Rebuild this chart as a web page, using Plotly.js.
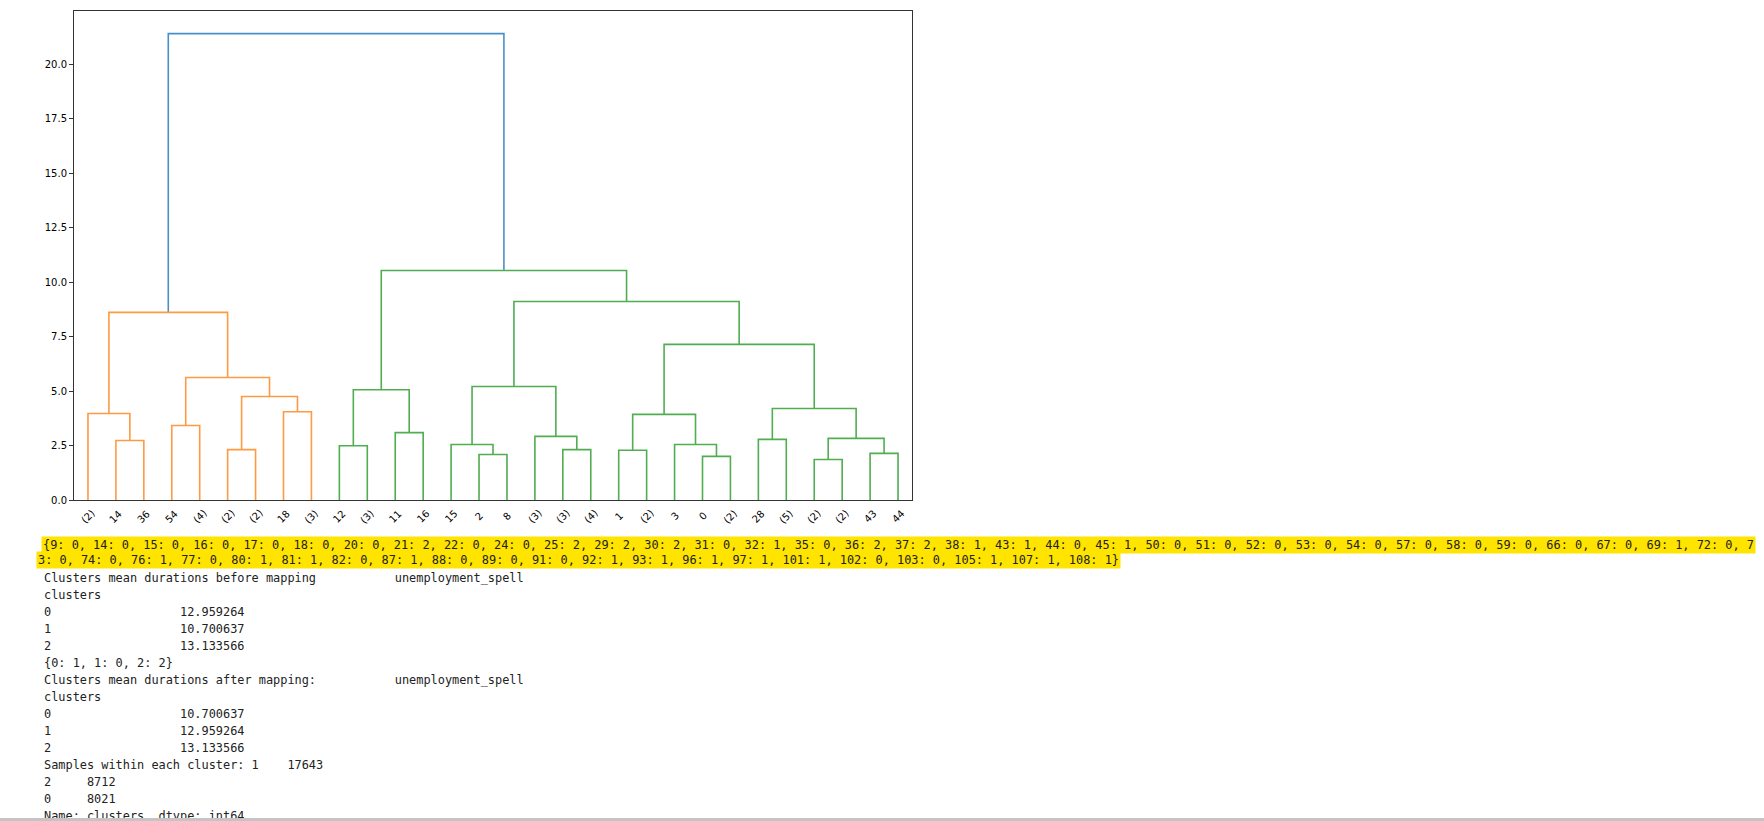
<!DOCTYPE html>
<html><head><meta charset="utf-8">
<script src="https://cdn.plot.ly/plotly-3.0.1.min.js"></script>
<style>
html,body{margin:0;padding:0;background:#fff;overflow:hidden}
#chart{width:1764px;height:821px;position:absolute;left:0;top:0}
#bar{position:absolute;left:0;top:818px;width:1764px;height:3px;background:#c4c4c4}
</style>
</head><body><div id="chart"></div><div id="bar"></div>
<script>
// ---- dendrogram data ----
const leafLabels = ['(2)','14','36','54','(4)','(2)','(2)','18','(3)','12','(3)','11','16','15','2','8','(3)','(3)','(4)','1','(2)','3','0','(2)','28','(5)','(2)','(2)','43','44'];
// merges: node id = leafLabels.length + merge index
const mergeLeft   = [1, 0, 3, 5, 7, 33, 32, 31, 9, 11, 38, 14, 13, 17, 16, 42, 19, 22, 21, 46, 24, 26, 28, 51, 50, 49, 45, 40, 37];
const mergeRight  = [2,30, 4, 6, 8, 34, 35, 36,10, 12, 39, 15, 41, 18, 43, 44, 20, 23, 47, 48, 25, 27, 29, 52, 53, 54, 55, 56, 57];
const mergeHeight = [2.73,3.97,3.42,2.31,4.05,4.75,5.62,8.61, 2.49,3.09,5.06,2.09,2.55,2.31,2.92,5.21,2.28,2.00,2.55,3.93,2.78,1.86,2.14,2.83,4.20,7.14,9.11,10.53, 21.40];
const mergeGroup  = [1,1,1,1,1,1,1,1, 2,2,2,2,2,2,2,2,2,2,2,2,2,2,2,2,2,2,2,2, 0];
const yTicks = [0,2.5,5,7.5,10,12.5,15,17.5,20];

// ---- printed output data ----
const mapKeys = [9,14,15,16,17,18,20,21,22,24,25,29,30,31,32,35,36,37,38,43,44,45,50,51,52,53,54,57,58,59,66,67,69,72,73,74,76,77,80,81,82,87,88,89,91,92,93,96,97,101,102,103,105,107,108];
const mapVals = [0,0,0,0,0,0,0,2,0,0,2,2,2,0,1,0,2,2,1,1,0,1,0,0,0,0,0,0,0,0,0,0,1,0,0,0,1,0,1,1,0,1,0,0,0,1,1,1,1,1,0,0,1,1,1];
const clusterIds = [0,1,2];
const meansBefore = [12.959264,10.700637,13.133566];
const remap = [1,0,2];
const meansAfter = [10.700637,12.959264,13.133566];
const countIds = [1,2,0];
const countVals = [17643,8712,8021];
const colName = 'unemployment_spell';
const idxName = 'clusters';

// ---- build dendrogram segments ----
const nLeaf = leafLabels.length;
const nodeX = [], nodeH = [];
for (let i=0;i<nLeaf;i++){ nodeX.push(5+10*i); nodeH.push(0); }
const groupColors = ['#4a90c8','#fd9a43','#50ad50'];
const segX = [[],[],[]], segY = [[],[],[]];
for (let k=0;k<mergeLeft.length;k++){
  const a=mergeLeft[k], b=mergeRight[k], h=mergeHeight[k], g=mergeGroup[k];
  segX[g].push(nodeX[a],nodeX[a],nodeX[b],nodeX[b],null);
  segY[g].push(nodeH[a],h,h,nodeH[b],null);
  nodeX.push((nodeX[a]+nodeX[b])/2); nodeH.push(h);
}
const traces = [0,1,2].map(g=>({x:segX[g],y:segY[g],type:'scatter',mode:'lines',
  line:{color:groupColors[g],width:1.6},hoverinfo:'skip',showlegend:false}));

// ---- geometry helpers (pixel -> paper) ----
const L=74, T=11, W=838, H=489;
const px = v => (v-L)/W;
const py = v => (T+H-v)/H;

const annotations = [];
leafLabels.forEach((lab,i)=>{
  annotations.push({x:nodeX[i],xref:'x',y:py(516.5),yref:'paper',text:lab,showarrow:false,
    textangle:-45,xanchor:'center',yanchor:'middle',
    font:{family:'DejaVu Sans',size:10,color:'#000'}});
});

const nb = s => s.replace(/ /g,'\u00a0');
const pad = (s,n) => { s=String(s); while(s.length<n) s=' '+s; return s; };
const padR = (s,n) => { s=String(s); while(s.length<n) s=s+' '; return s; };
const mono = {family:'DejaVu Sans Mono',size:11.9,color:'#222'};

// highlighted dict, wrapped
const dictStr = '{' + mapKeys.map((k,i)=>k+': '+mapVals[i]).join(', ') + '}';
const wrapAt = 239;
const dictLines = [dictStr.slice(0,wrapAt), dictStr.slice(wrapAt)];
const dictX = [40.6, 36.0];
const dictY = [545.2, 560.2];
dictLines.forEach((s,i)=>{
  annotations.push({x:px(dictX[i]),xref:'paper',y:py(dictY[i]),yref:'paper',text:nb(s),showarrow:false,
    xanchor:'left',yanchor:'middle',bgcolor:'#ffe400',borderpad:1,font:mono});
});

// pandas-like printed output
const dfW = Math.max(idxName.length, 1);
const header = ' '.repeat(dfW+2) + colName;
const lines = [];
lines.push('Clusters mean durations before mapping ' + header);
lines.push(idxName);
clusterIds.forEach((c,i)=>lines.push(padR(c,dfW) + pad(meansBefore[i].toFixed(6), colName.length+2)));
lines.push('{' + clusterIds.map((c,i)=>c+': '+remap[i]).join(', ') + '}');
lines.push('Clusters mean durations after mapping: ' + header);
lines.push(idxName);
clusterIds.forEach((c,i)=>lines.push(padR(c,dfW) + pad(meansAfter[i].toFixed(6), colName.length+2)));
countIds.forEach((c,i)=>lines.push((i===0?'Samples within each cluster: ':'') + c + pad(countVals[i],9)));
lines.push('Name: ' + idxName + ', dtype: int64');
lines.forEach((s,i)=>{
  annotations.push({x:px(41.6),xref:'paper',y:py(578.3+16.96*i),yref:'paper',text:nb(s),showarrow:false,
    xanchor:'left',yanchor:'middle',font:mono});
});

const layout = {
  width:1764, height:821,
  margin:{l:L, r:1764-L-W, t:T, b:821-T-H, pad:0},
  paper_bgcolor:'#fff', plot_bgcolor:'#fff',
  showlegend:false,
  xaxis:{range:[0,nLeaf*10],showline:true,mirror:true,linecolor:'#333',linewidth:1,
    showticklabels:false,ticks:'',showgrid:false,zeroline:false},
  yaxis:{range:[0,22.44],tickvals:yTicks,tickformat:'.1f',ticks:'outside',ticklen:4,tickcolor:'#333',
    showline:true,mirror:true,linecolor:'#333',linewidth:1,showgrid:false,zeroline:false,
    tickfont:{family:'DejaVu Sans',size:10,color:'#000'}},
  annotations:annotations
};
Plotly.newPlot('chart',traces,layout,{staticPlot:true,displayModeBar:false});
</script>
</body></html>
